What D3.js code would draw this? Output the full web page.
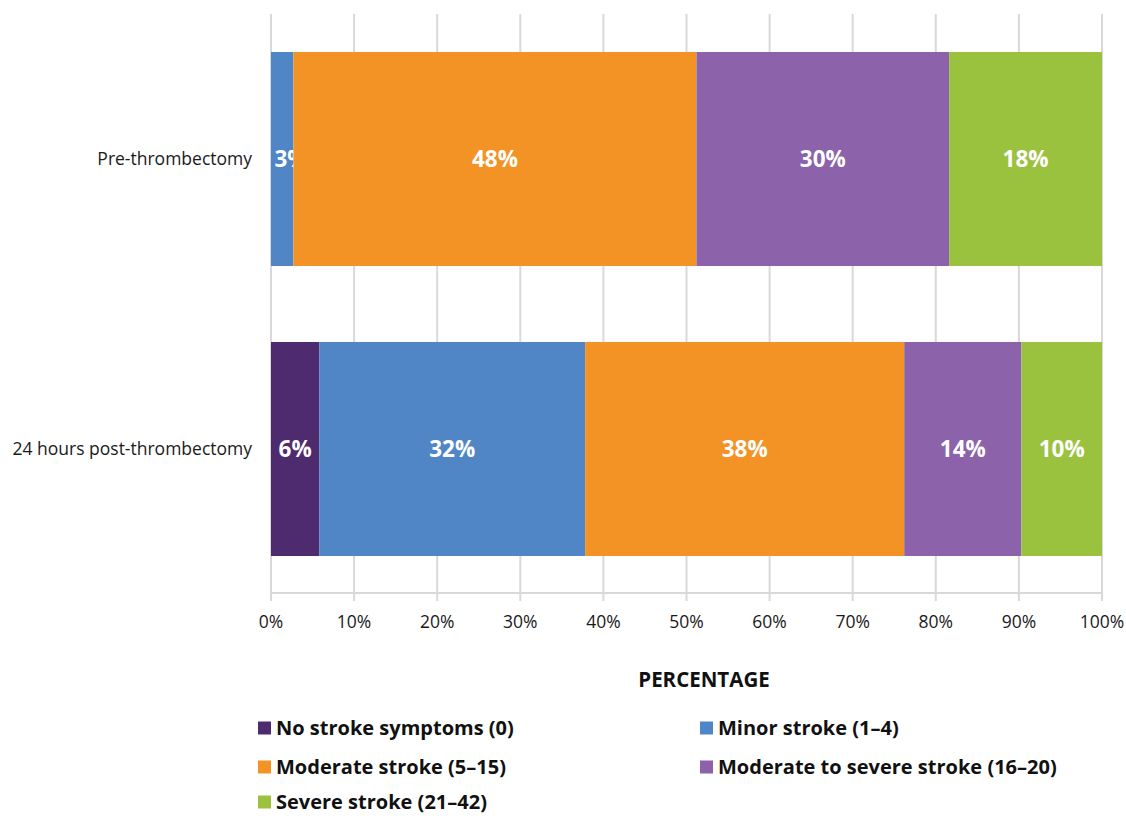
<!DOCTYPE html>
<html><head><meta charset="utf-8">
<script src="https://cdn.jsdelivr.net/npm/d3@7"></script>
<style>body{margin:0;background:#fff;} text{font-family:"Open Sans","Noto Sans",sans-serif;}</style>
</head><body>
<svg id="c" width="1126" height="816"></svg>
<script>
const categories = ["Pre-thrombectomy", "24 hours post-thrombectomy"];
const seriesNames = ["No stroke symptoms (0)", "Minor stroke (1\u20134)", "Moderate stroke (5\u201315)", "Moderate to severe stroke (16\u201320)", "Severe stroke (21\u201342)"];
const seriesColors = ["#4e2a6e", "#5086c6", "#f39325", "#8c62aa", "#9bc23f"];
const noSymptoms = [0, 5.8];
const minor = [2.7, 32.0];
const moderate = [48.5, 38.4];
const modSevere = [30.4, 14.1];
const severe = [18.4, 9.7];
const valueLabels = [["", "3%", "48%", "30%", "18%"], ["6%", "32%", "38%", "14%", "10%"]];
const xTicks = [0,10,20,30,40,50,60,70,80,90,100];

(function(){
const series = [noSymptoms, minor, moderate, modSevere, severe];
const svg = d3.select("#c");
const pl = 271, pr = 1102, pt = 14, pb = 593;
const x = d3.scaleLinear().domain([0,100]).range([pl,pr]);
const y = d3.scaleBand().domain(categories).range([14, 594]).paddingInner(0.262).paddingOuter(0.131);

svg.append("g").selectAll("line").data(xTicks).join("line")
  .attr("x1", d=>x(d)).attr("x2", d=>x(d)).attr("y1", pt).attr("y2", 601)
  .attr("stroke", "#d9d9d9").attr("stroke-width", 2);
svg.append("line").attr("x1", pl).attr("x2", pr).attr("y1", pb).attr("y2", pb)
  .attr("stroke", "#d9d9d9").attr("stroke-width", 2);

categories.forEach((cat, ci) => {
  let cum = 0;
  series.forEach((s, si) => {
    const v = s[ci];
    const x0 = x(cum), x1 = x(cum + v);
    cum += v;
    if (v <= 0) return;
    svg.append("rect").attr("x", x0).attr("width", x1 - x0)
      .attr("y", y(cat)).attr("height", y.bandwidth()).attr("fill", seriesColors[si]);
    const lab = valueLabels[ci][si];
    if (lab) {
      let cx = (x0 + x1) / 2;
      cx = Math.max(cx, pl + 20);
      svg.append("text").attr("x", cx).attr("y", y(cat) + y.bandwidth()/2)
        .attr("dy", "0.35em").attr("text-anchor", "middle")
        .attr("fill", "#fff").attr("font-weight", "bold").attr("font-size", 22.5)
        .text(lab);
    }
  });
  svg.append("text").attr("x", 252).attr("y", y(cat) + y.bandwidth()/2)
    .attr("dy", "0.35em").attr("text-anchor", "end").attr("font-size", 17.5).attr("fill", "#1a1a1a")
    .text(cat);
});

svg.append("g").selectAll("text").data(xTicks).join("text")
  .attr("x", d=>x(d)).attr("y", 622).attr("dy", "0.35em").attr("text-anchor", "middle")
  .attr("font-size", 17.5).attr("fill", "#1a1a1a").text(d => d + "%");

svg.append("text").attr("x", 704).attr("y", 680).attr("dy", "0.35em").attr("text-anchor", "middle")
  .attr("font-size", 20.5).attr("font-weight", "bold").attr("fill", "#111").text("PERCENTAGE");

const legPos = [[258,728],[700,728],[258,767],[700,767],[258,802]];
seriesNames.forEach((n, i) => {
  const [lx, ly] = legPos[i];
  svg.append("rect").attr("x", lx).attr("y", ly - 6.5).attr("width", 13).attr("height", 13).attr("fill", seriesColors[i]);
  svg.append("text").attr("x", lx + 18).attr("y", ly).attr("dy", "0.35em")
    .attr("font-size", 20).attr("font-weight", "bold").attr("fill", "#111").text(n);
});
})();
</script>
</body></html>
